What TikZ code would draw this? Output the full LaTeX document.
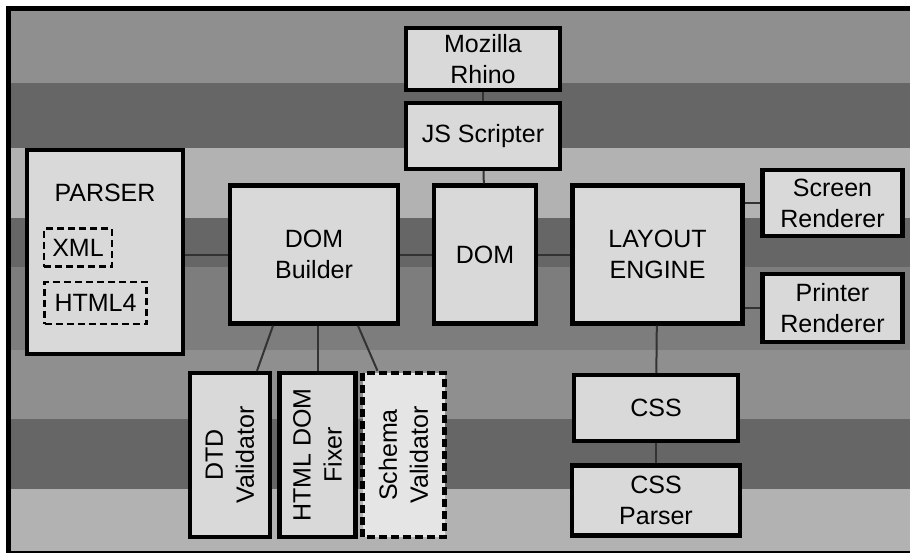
\documentclass[tikz,border=0pt]{standalone}
\usepackage{fontspec}
\setmainfont{Liberation Sans}
\usetikzlibrary{calc}
\colorlet{savvil}{black!30}
\colorlet{savkoz}{black!44}
\colorlet{savkoz2}{black!51}
\colorlet{savsot}{black!60}
\colorlet{dobszin}{black!15}
\tikzset{
  modul/.style={draw,line width=2.2pt,fill=dobszin,align=center,inner sep=1pt},
  resz/.style={draw,dashed,dash pattern=on 3.5pt off 2pt,line width=1.2pt,fill=dobszin,inner sep=1pt},
  opc/.style={modul,dash pattern=on 4pt off 2pt,fill=black!10},
  fugg/.style={modul,rotate=90},
  kapcs/.style={line width=1pt,black!80},
}

\begin{document}
\begin{tikzpicture}[x=0.5pt,y=-0.5pt,font=\fontsize{12.5}{15.5}\selectfont]
  \useasboundingbox (0,0) rectangle (910,552);
  \clip (0,0) rectangle (910,552);
  \fill[savkoz] (11,11) rectangle (910,83);
  \fill[savsot] (11,83) rectangle (910,148);
  \fill[savvil] (11,148) rectangle (910,218);
  \fill[savsot] (11,218) rectangle (910,267);
  \fill[savkoz2] (11,267) rectangle (910,350);
  \fill[savkoz] (11,350) rectangle (910,419);
  \fill[savsot] (11,419) rectangle (910,489);
  \fill[savvil] (11,489) rectangle (910,552);
  \draw[line width=2.5pt] (8.5,8.5) rectangle (920,553);

  \node[modul,minimum width=77pt,minimum height=31pt] (rhino) at (483,59) {Mozilla\\Rhino};
  \node[modul,minimum width=77pt,minimum height=33pt] (js) at (483,136) {JS Scripter};
  \node[modul,minimum width=78pt,minimum height=102pt] (parser) at (105,252) {};
  \node (parsercim) at (105,193) {PARSER};
  \node[resz,minimum width=34pt,minimum height=19pt] (xml) at (78,247.5) {XML};
  \node[resz,minimum width=51pt,minimum height=21pt] (html) at (95.5,303) {HTML4};
  \node[modul,minimum width=84pt,minimum height=69pt] (epito) at (314,254.5) {DOM\\Builder};
  \node[modul,minimum width=51pt,minimum height=69pt] (dom) at (485,254.5) {DOM};
  \node[modul,minimum width=85pt,minimum height=69pt] (layout) at (657.5,254.5) {LAYOUT\\ENGINE};
  \node[modul,minimum width=70pt,minimum height=33pt] (kepernyo) at (832.5,203) {Screen\\Renderer};
  \node[modul,minimum width=70pt,minimum height=34pt] (nyomtato) at (832.5,308) {Printer\\Renderer};
  \node[modul,minimum width=82pt,minimum height=33pt] (css) at (656,408) {CSS};
  \node[modul,minimum width=84pt,minimum height=35pt] (cssparser) at (656,500.5) {CSS\\Parser};
  \node[fugg,minimum width=82pt,minimum height=40pt] (dtd) at (230,455) {DTD\\Validator};
  \node[fugg,minimum width=82pt,minimum height=38pt] (javito) at (317.5,455) {HTML DOM\\Fixer};
  \node[opc,rotate=90,minimum width=82pt,minimum height=41pt] (schema) at (403.5,455) {Schema\\Validator};

  \draw[kapcs] (rhino) -- (js);
  \draw[kapcs] (js) -- (dom);
  \draw[kapcs] (epito.west -| parser.east) -- (epito.west);
  \draw[kapcs] (epito) -- (dom);
  \draw[kapcs] (dom) -- (layout);
  \draw[kapcs] (kepernyo.west -| layout.east) -- (kepernyo.west);
  \draw[kapcs] (nyomtato.west -| layout.east) -- (nyomtato.west);
  \draw[kapcs] (layout) -- (css);
  \draw[kapcs] (css) -- (cssparser);
  \draw[kapcs] ($(epito.south)+(-41,0)$) -- ($(dtd.east)+(27,0)$);
  \draw[kapcs] (javito.east |- epito.south) -- (javito.east);
  \draw[kapcs] ($(epito.south)+(44,0)$) -- ($(schema.east)+(-26,0)$);
\end{tikzpicture}
\end{document}
